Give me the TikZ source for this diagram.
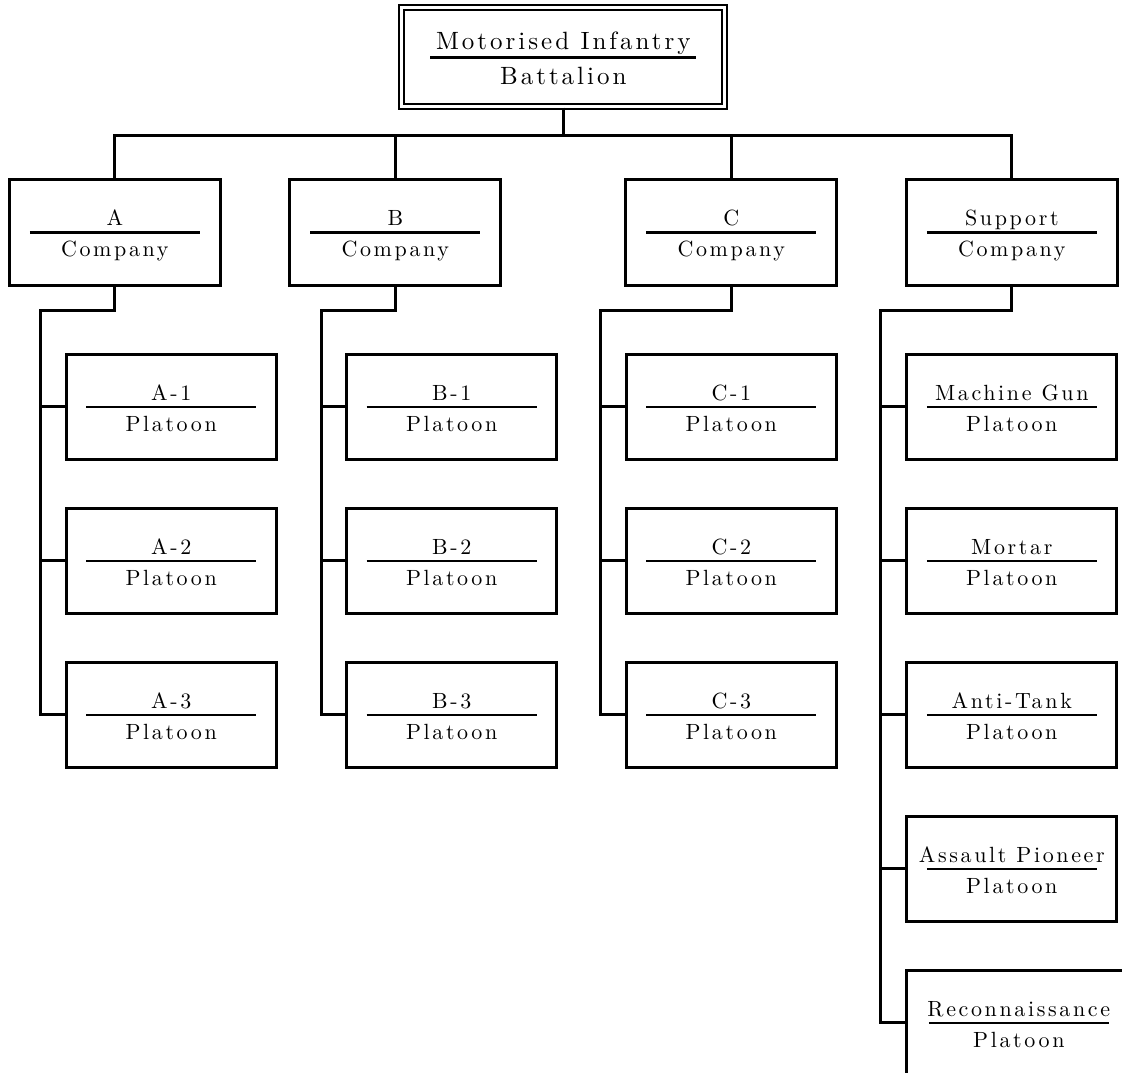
\documentclass[tikz,border=0pt]{standalone}
\usepackage{fontspec}
\setmainfont{lmroman10-regular.otf}[LetterSpace=12]
\usetikzlibrary{positioning}
\newcommand\twoline[3][85pt]{\vbox{\offinterlineskip
  \hbox to #1{\hss\vrule height 1em depth .25em width 0pt #2\hss}
  \hrule height 1.3pt
  \kern .3em
  \hbox to #1{\hss\vrule height .75em depth .2em width 0pt #3\hss}}}

\begin{document}
\begin{tikzpicture}[line width=1.5pt,node distance=23pt and 33.25pt,
  font=\fontsize{11}{13}\selectfont,
  bns/.style={draw,double,double distance=1.5pt,line width=1pt,minimum width=161.5pt,minimum height=49.35pt,inner sep=0pt,font=\fontsize{12.5}{15}\selectfont},
  coys/.style={draw,minimum width=105.5pt,minimum height=53pt,inner sep=0pt},
  plts/.style={draw,minimum width=105pt,minimum height=52.5pt,inner sep=0pt}]
  \useasboundingbox (0,0) rectangle (561pt,-536pt);
  \clip (0,0) rectangle (561pt,-536pt);
  % battalion and companies
  \node[bns] (bn) at (281.65pt,-28.6pt) {\twoline[133pt]{Motorised Infantry}{Battalion}};
  \node[coys] (coyA) at (57.4pt,-116.15pt) {\twoline{A}{Company}};
  \node[coys,right=of coyA] (coyB) {\twoline{B}{Company}};
  \node[coys,right=61pt of coyB] (coyC) {\twoline{C}{Company}};
  \node[coys,right=of coyC] (coyS) {\twoline{Support}{Company}};
  % platoons
  \node[plts,below=33pt of coyA,xshift=28.2pt] (plA1) {\twoline{A-1}{Platoon}};
  \node[plts,below=of plA1] (plA2) {\twoline{A-2}{Platoon}};
  \node[plts,below=of plA2] (plA3) {\twoline{A-3}{Platoon}};
  \node[plts,below=33pt of coyB,xshift=28.2pt] (plB1) {\twoline{B-1}{Platoon}};
  \node[plts,below=of plB1] (plB2) {\twoline{B-2}{Platoon}};
  \node[plts,below=of plB2] (plB3) {\twoline{B-3}{Platoon}};
  \node[plts,below=33pt of coyC] (plC1) {\twoline{C-1}{Platoon}};
  \node[plts,below=of plC1] (plC2) {\twoline{C-2}{Platoon}};
  \node[plts,below=of plC2] (plC3) {\twoline{C-3}{Platoon}};
  \node[plts,below=33pt of coyS] (plS1) {\twoline{Machine Gun}{Platoon}};
  \node[plts,below=of plS1] (plS2) {\twoline{Mortar}{Platoon}};
  \node[plts,below=of plS2] (plS3) {\twoline{Anti-Tank}{Platoon}};
  \node[plts,below=of plS3] (plS4) {\twoline{Assault Pioneer}{Platoon}};
  \node[plts,minimum width=112pt,below=23pt of plS4.south west,anchor=north west] (plS5) {\twoline[90pt]{Reconnaissance}{Platoon}};
  % lines
  \draw (bn.south) -- ++(0,-14pt) coordinate (bus);
  \draw (bus) -| (coyA.north); \draw (bus) -| (coyB.north); \draw (bus) -| (coyC.north); \draw (bus) -| (coyS.north);
  \draw (coyA.south) -- ++(0,-12pt) -| ([xshift=-12pt]plA3.west) -- (plA3.west);
  \draw ([xshift=-12pt]plA1.west) -- (plA1.west); \draw ([xshift=-12pt]plA2.west) -- (plA2.west);
  \draw (coyB.south) -- ++(0,-12pt) -| ([xshift=-12pt]plB3.west) -- (plB3.west);
  \draw ([xshift=-12pt]plB1.west) -- (plB1.west); \draw ([xshift=-12pt]plB2.west) -- (plB2.west);
  \draw (coyC.south) -- ++(0,-12pt) -| ([xshift=-12.25pt]plC3.west) -- (plC3.west);
  \draw ([xshift=-12.25pt]plC1.west) -- (plC1.west); \draw ([xshift=-12.25pt]plC2.west) -- (plC2.west);
  \draw (coyS.south) -- ++(0,-12pt) -| ([xshift=-12.25pt]plS5.west) -- (plS5.west);
  \draw ([xshift=-12.25pt]plS1.west) -- (plS1.west); \draw ([xshift=-12.25pt]plS2.west) -- (plS2.west);
  \draw ([xshift=-12.25pt]plS3.west) -- (plS3.west); \draw ([xshift=-12.25pt]plS4.west) -- (plS4.west);
\end{tikzpicture}
\end{document}
